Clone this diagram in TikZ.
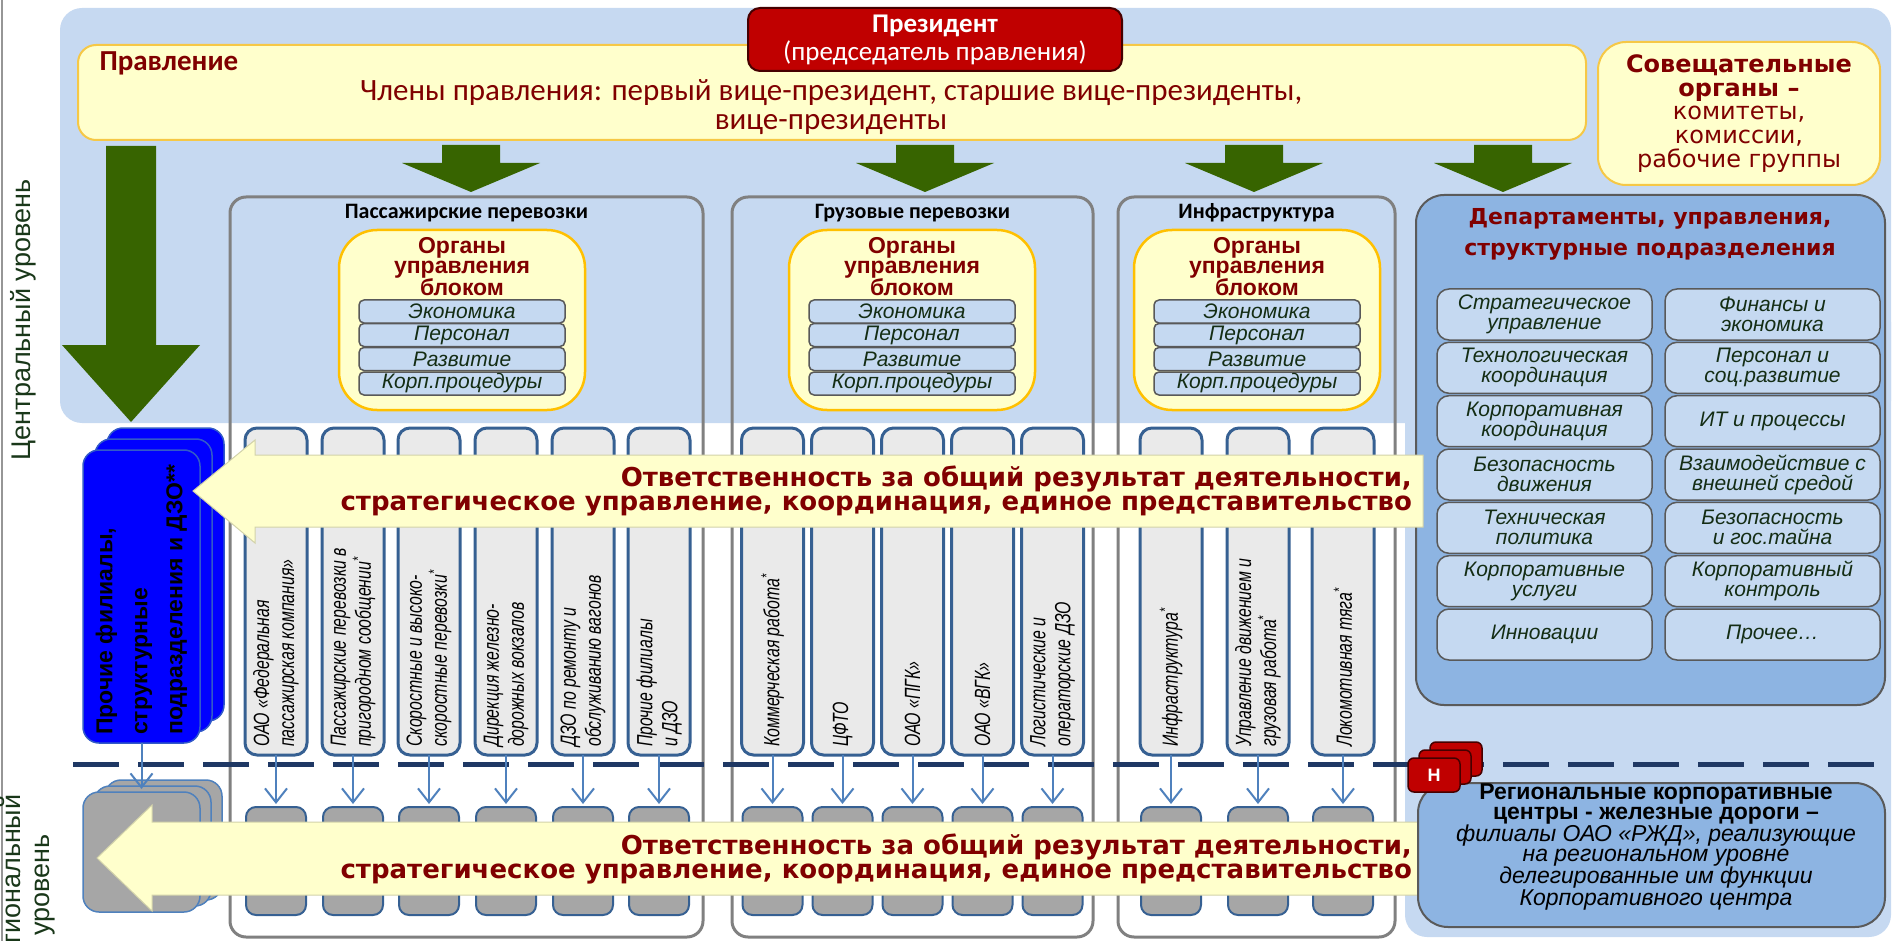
\documentclass[tikz,border=0pt]{standalone}
\usepackage{fontspec}
\setmainfont{Carlito}
\newfontfamily\arialf{Liberation Sans}
\newfontfamily\narrowf[FakeStretch=0.72]{Liberation Sans}
\newfontfamily\verdf{DejaVu Sans}
\usetikzlibrary{arrows.meta}
\newcommand\myfs[2]{\fontsize{#1}{#2}\selectfont}
\definecolor{bgblue}{RGB}{198,217,241}
\definecolor{ylight}{RGB}{255,255,204}
\definecolor{ybord}{RGB}{246,200,70}
\definecolor{presred}{RGB}{192,0,0}
\definecolor{presbd}{RGB}{70,0,0}
\definecolor{dred}{RGB}{128,0,0}
\definecolor{darkgreen}{RGB}{55,100,0}
\definecolor{colgray}{RGB}{128,128,128}
\definecolor{orgbd}{RGB}{255,192,0}
\definecolor{subbd}{RGB}{89,89,89}
\definecolor{subfill}{RGB}{197,217,241}
\definecolor{unitbd}{RGB}{54,96,146}
\definecolor{unitfill}{RGB}{234,234,234}
\definecolor{gboxfill}{RGB}{166,166,166}
\definecolor{deptfill}{RGB}{141,180,226}
\definecolor{deptbd}{RGB}{90,90,90}
\definecolor{pureblue}{RGB}{0,0,255}
\definecolor{bluebd}{RGB}{50,90,200}
\definecolor{arrblue}{RGB}{79,129,189}
\definecolor{navy}{RGB}{31,56,100}
\definecolor{itdark}{RGB}{20,45,20}
\definecolor{levelgreen}{RGB}{25,55,25}
\definecolor{edgegray}{RGB}{150,150,150}
\definecolor{yarrbd}{RGB}{210,210,170}
\tikzset{
 ybox/.style={draw=ybord, fill=ylight, line width=2, rounded corners=18, inner sep=0, outer sep=0},
 presbox/.style={draw=presbd, fill=presred, line width=2, rounded corners=12, inner sep=0, outer sep=0},
 colbox/.style={draw=colgray, line width=3, rounded corners=16, inner sep=0, outer sep=0},
 organbox/.style={draw=orgbd, fill=ylight, line width=2.5, rounded corners=38, inner sep=0, outer sep=0},
 subbox/.style={draw=subbd, fill=subfill, line width=1.5, rounded corners=5, inner sep=0, outer sep=0, minimum width=206, minimum height=23, text=itdark, font=\arialf\itshape\myfs{21}{21}},
 tallbox/.style={draw=unitbd, fill=unitfill, line width=3, rounded corners=12, inner sep=0, outer sep=0, minimum height=327},
 smallbox/.style={draw=unitbd, fill=gboxfill, line width=2, rounded corners=10, inner sep=0, outer sep=0, minimum width=60, minimum height=108},
 deptbox/.style={draw=deptbd, fill=deptfill, line width=2, rounded corners=28, inner sep=0, outer sep=0},
 deptrow/.style={draw=subbd, fill=subfill, line width=1.5, rounded corners=12, inner sep=0, outer sep=0, minimum width=215, minimum height=51, align=center, text=itdark, font=\arialf\itshape\myfs{21}{20}},
 bluelayer/.style={draw=bluebd, fill=pureblue, line width=1.5, rounded corners=16, inner sep=0, outer sep=0, minimum width=117, minimum height=293},
 graylayer/.style={draw=arrblue, fill=gboxfill, line width=1.5, rounded corners=16, inner sep=0, outer sep=0, minimum width=117, minimum height=120},
 redlayer/.style={draw=presbd, fill=presred, line width=1.5, rounded corners=6, inner sep=0, outer sep=0, minimum width=52, minimum height=34},
 smallarr/.style={draw=arrblue, line width=2, -{Straight Barb[length=14pt,width=22pt]}},
 yarrow/.style={fill=ylight, draw=yarrbd, line width=1},
 dashline/.style={draw=navy, line width=5, dash pattern=on 46pt off 19pt},
 unittext/.style={rotate=90, anchor=west, align=left, inner sep=0, text=black, font=\narrowf\itshape\myfs{22}{25}},
 coltitle/.style={font=\bfseries\myfs{22}{22}, text=black},
 organtext/.style={text=dred, align=center, font=\arialf\bfseries\myfs{23}{19.5}},
 resptext/.style={anchor=east, align=right, inner sep=0, text=dred, font=\verdf\bfseries\myfs{26}{24}},
}
\begin{document}
\begin{tikzpicture}[x=1pt,y=-1pt]
\useasboundingbox (0,0) rectangle (1895,941);
\draw[edgegray, line width=2] (2,0) -- (2,941);
\fill[bgblue, rounded corners=22] (60,8) rectangle (1891,423);
\fill[bgblue, rounded corners=22] (1405,300) rectangle (1891,937);

% level labels
\node[rotate=90, text=levelgreen, font=\arialf\myfs{27}{27}] (lvlc) at (23,320) {Центральный уровень};
\node[rotate=90, align=center, text=levelgreen, font=\arialf\myfs{27}{29}] (lvlr) at (28,885) {Региональный\\уровень};

% board
\node[ybox, minimum width=1508, minimum height=95] (board) at (832,92.5) {};
\node[anchor=west, text=dred, font=\bfseries\myfs{29}{29}] (boardt) at (96,63) {Правление};
\node[text=dred, align=center, font=\myfs{31}{29}] (members) at (831,107) {Члены правления: первый вице-президент, старшие вице-президенты,\\вице-президенты};

% president
\node[presbox, minimum width=374, minimum height=63, align=center, text=white, font=\myfs{27}{28}] (pres) at (935,39.5) {\textbf{Президент}\\(председатель правления)};

% advisory
\node[ybox, rounded corners=28, minimum width=282, minimum height=143, align=center, text=dred, font=\verdf\myfs{24}{23.7}] (sovet) at (1739,113.5) {\textbf{Совещательные}\\\textbf{органы –}\\комитеты,\\комиссии,\\рабочие группы};

% green arrows
\foreach \cx in {471,925,1254,1503} {
  \fill[darkgreen] ({\cx-29},145) -- ({\cx+29},145) -- ({\cx+29},163) -- ({\cx+69},163) -- (\cx,192) -- ({\cx-69},163) -- ({\cx-29},163) -- cycle;
}
\fill[darkgreen] (106,146) -- (156,146) -- (156,345) -- (200,345) -- (131,422) -- (62,345) -- (106,345) -- cycle;

% column boxes
\node[colbox, minimum width=473, minimum height=740] (colP) at (466.5,567) {};
\node[colbox, minimum width=361, minimum height=740] (colC) at (912.5,567) {};
\node[colbox, minimum width=277, minimum height=740] (colI) at (1256.5,567) {};
\node[coltitle] (ttlP) at (466.5,213) {Пассажирские перевозки};
\node[coltitle] (ttlC) at (912.5,213) {Грузовые перевозки};
\node[coltitle] (ttlI) at (1256.5,213) {Инфраструктура};

% organ boxes
\foreach \n/\cx in {P/462, C/912, I/1257} {
  \node[organbox, minimum width=246, minimum height=180] (org\n) at (\cx,320) {};
  \node[organtext] (orgt\n) at (\cx,267) {Органы\\управления\\блоком};
  \node[subbox] (ec\n) at (\cx,311.5) {Экономика};
  \node[subbox] (pe\n) at (\cx,335) {Персонал};
  \node[subbox] (ra\n) at (\cx,359) {Развитие};
  \node[subbox] (kp\n) at (\cx,383.5) {Корп.процедуры};
}

% departments
\node[deptbox, minimum width=469, minimum height=510] (dept) at (1650.5,450) {};
\node[text=dred, align=center, font=\verdf\bfseries\myfs{22}{31}] (deptt) at (1650,234) {Департаменты, управления,\\структурные подразделения};
\node[deptrow] (d11) at (1544.5,314.5) {Стратегическое\\управление};
\node[deptrow] (d12) at (1544.5,367.8) {Технологическая\\координация};
\node[deptrow] (d13) at (1544.5,421.2) {Корпоративная\\координация};
\node[deptrow] (d14) at (1544.5,474.5) {Безопасность\\движения};
\node[deptrow] (d15) at (1544.5,527.8) {Техническая\\политика};
\node[deptrow] (d16) at (1544.5,581.2) {Корпоративные\\услуги};
\node[deptrow] (d17) at (1544.5,634.5) {Инновации};
\node[deptrow] (d21) at (1772.5,314.5) {Финансы и\\экономика};
\node[deptrow] (d22) at (1772.5,367.8) {Персонал и\\соц.развитие};
\node[deptrow] (d23) at (1772.5,421.2) {ИТ и процессы};
\node[deptrow] (d24) at (1772.5,474.5) {Взаимодействие с\\внешней средой};
\node[deptrow] (d25) at (1772.5,527.8) {Безопасность\\и гос.тайна};
\node[deptrow] (d26) at (1772.5,581.2) {Корпоративный\\контроль};
\node[deptrow] (d27) at (1772.5,634.5) {Прочее…};

% tall unit boxes
\foreach \n/\cx in {P1/276, P2/353, P3/429, P4/506, P5/583, P6/659, C1/772.5, C2/842.5, C3/912.5, C4/982.5, C5/1052.5, I1/1171, I2/1258, I3/1343} {
  \node[tallbox, minimum width=62] (t\n) at (\cx,591.5) {};
}
\node[unittext] (uP1) at (276,747) {ОАО «Федеральная\\пассажирская компания»};
\node[unittext] (uP2) at (353,747) {Пассажирские перевозки в\\пригородном сообщении\textsuperscript{*}};
\node[unittext] (uP3) at (429,747) {Скоростные и высоко-\\скоростные перевозки\textsuperscript{*}};
\node[unittext] (uP4) at (506,747) {Дирекция железно-\\дорожных вокзалов};
\node[unittext] (uP5) at (583,747) {ДЗО по ремонту и\\обслуживанию вагонов};
\node[unittext] (uP6) at (659,747) {Прочие филиалы\\и ДЗО};
\node[unittext] (uC1) at (772.5,747) {Коммерческая работа\textsuperscript{*}};
\node[unittext] (uC2) at (842.5,747) {ЦФТО};
\node[unittext] (uC3) at (912.5,747) {ОАО «ПГК»};
\node[unittext] (uC4) at (982.5,747) {ОАО «ВГК»};
\node[unittext] (uC5) at (1052.5,747) {Логистические и\\операторские ДЗО};
\node[unittext] (uI1) at (1171,747) {Инфраструктура\textsuperscript{*}};
\node[unittext] (uI2) at (1258,747) {Управление движением и\\грузовая работа\textsuperscript{*}};
\node[unittext] (uI3) at (1343,747) {Локомотивная тяга\textsuperscript{*}};

% blue stack
\node[bluelayer] (blue3) at (165.5,574.5) {};
\node[bluelayer] (blue2) at (153.5,585.5) {};
\node[bluelayer] (blue1) at (141.5,596.5) {};
\node[rotate=90, anchor=west, align=left, inner sep=0, text=black, font=\arialf\bfseries\myfs{23}{35}] (bluet) at (141.5,735) {Прочие филиалы,\\структурные\\подразделения и ДЗО**};

% upper yellow arrow
\filldraw[yarrow] (193,491) -- (255,440) -- (255,455) -- (1423,455) -- (1423,527) -- (255,527) -- (255,543) -- cycle;
\node[resptext] (resp1) at (1412,491) {Ответственность за общий результат деятельности,\\стратегическое управление, координация, единое представительство};

% divider
\draw[dashline] (73,764) -- (1888,764);

% regional small boxes and arrows
\foreach \n/\cx in {P1/276, P2/353, P3/429, P4/506, P5/583, P6/659, C1/772.5, C2/842.5, C3/912.5, C4/982.5, C5/1052.5, I1/1171, I2/1258, I3/1343} {
  \node[smallbox] (s\n) at (\cx,861) {};
  \draw[smallarr, shorten >=3pt] (t\n.south) -- (s\n.north);
}

% gray stack
\node[graylayer] (gray3) at (163.5,840) {};
\node[graylayer] (gray2) at (152.5,846) {};
\node[graylayer] (gray1) at (141.5,852) {};
\draw[smallarr, shorten >=3pt] (blue1.south) -- (gray1.north);

% lower yellow arrow
\filldraw[yarrow] (97,858) -- (152,805) -- (152,822) -- (1428,822) -- (1428,895) -- (152,895) -- (152,911) -- cycle;
\node[resptext] (resp2) at (1412,859) {Ответственность за общий результат деятельности,\\стратегическое управление, координация, единое представительство};

% regional centres
\node[deptbox, rounded corners=30, minimum width=467, minimum height=144] (reg) at (1651.5,855) {};
\node[align=center, text=black, font=\arialf\myfs{23}{19.8}] (regt) at (1656,847) {\textbf{Региональные корпоративные}\\\textbf{центры - железные дороги –}\\\textit{филиалы ОАО «РЖД», реализующие}\\\textit{на региональном уровне}\\\textit{делегированные им функции}\\\textit{Корпоративного центра}};

% red stack
\node[redlayer] (red3) at (1456,759) {};
\node[redlayer] (red2) at (1445,767) {};
\node[redlayer, text=white, font=\arialf\bfseries\myfs{18}{18}] (red1) at (1434,775) {Н};
\end{tikzpicture}
\end{document}
